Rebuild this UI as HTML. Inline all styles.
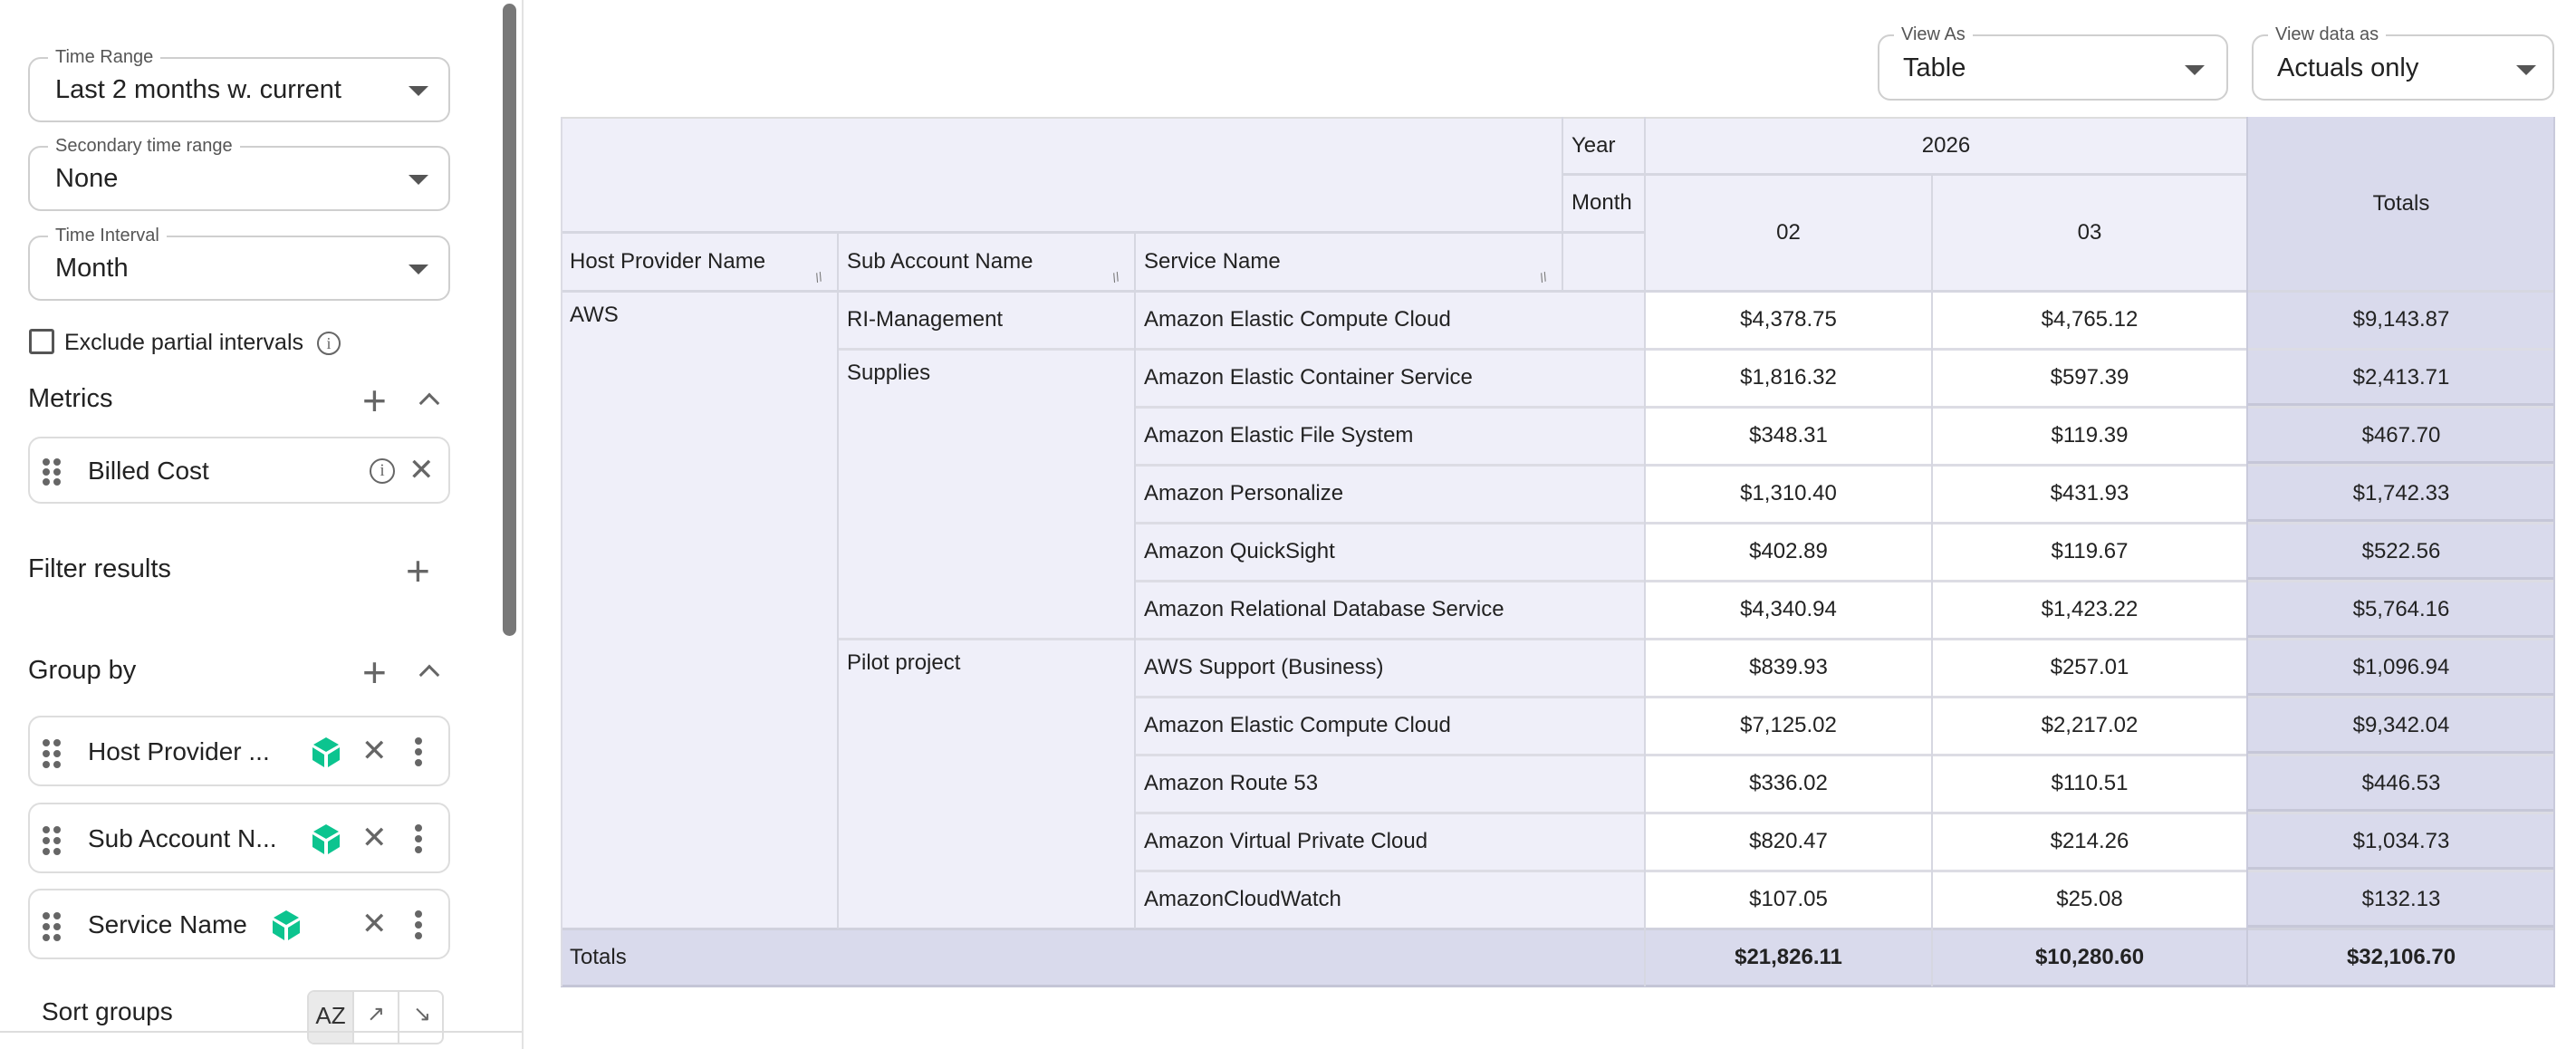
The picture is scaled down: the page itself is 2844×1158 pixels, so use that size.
<!DOCTYPE html>
<html><head><meta charset="utf-8"><style>
*{box-sizing:border-box;margin:0;padding:0}
body{width:2844px;height:1158px;overflow:hidden;background:#fff;font-family:"Liberation Sans",Arial,sans-serif;color:#1f1f1f;position:relative}
.a{position:absolute}
.box{position:absolute;border:2px solid #cfcfcf;border-radius:14px;background:#fff}
.lab{position:absolute;background:#fff;padding:0 8px;font-size:20px;color:#555;top:-14px;left:20px;line-height:24px}
.val{position:absolute;left:28px;font-size:29px;color:#222}
.arr{position:absolute;width:0;height:0;border-left:11px solid transparent;border-right:11px solid transparent;border-top:11px solid #555}
.card{position:absolute;left:31px;width:466px;border:2px solid #ddd;border-radius:14px;background:#fff}
.dots{position:absolute;left:14px;width:22px;height:30px}
.dots i{position:absolute;width:8px;height:8px;border-radius:50%;background:#666}
.ct{position:absolute;left:64px;font-size:28px;color:#222}
.x{position:absolute;font-size:34px;color:#666;line-height:34px}
.vd{position:absolute;width:8px}
.vd i{position:absolute;left:0;width:8px;height:8px;border-radius:50%;background:#666}
.h{position:absolute;font-size:29px;color:#222}
.plus{position:absolute;font-size:46px;color:#666;line-height:40px;font-weight:300}
.c{position:absolute;font-size:24px;display:flex;align-items:center;padding-left:10px;color:#222}
.n{position:absolute;font-size:24px;display:flex;align-items:center;justify-content:center;color:#222}
</style></head><body>

<!-- sidebar -->
<div class="a" style="left:576px;top:0;width:2px;height:1158px;background:#e2e2e2"></div>
<div class="a" style="left:555px;top:4px;width:15px;height:698px;background:#787878;border-radius:8px"></div>

<div class="box" style="left:31px;top:63px;width:466px;height:72px"><div class="lab">Time Range</div><div class="val" style="top:18px">Last 2 months w. current</div><div class="arr" style="left:418px;top:30px"></div></div>
<div class="box" style="left:31px;top:161px;width:466px;height:72px"><div class="lab">Secondary time range</div><div class="val" style="top:18px">None</div><div class="arr" style="left:418px;top:30px"></div></div>
<div class="box" style="left:31px;top:260px;width:466px;height:72px"><div class="lab">Time Interval</div><div class="val" style="top:18px">Month</div><div class="arr" style="left:418px;top:30px"></div></div>

<div class="a" style="left:32px;top:363px;width:28px;height:28px;border:3px solid #555;border-radius:3px"></div>
<div class="a" style="left:71px;top:364px;font-size:25px;color:#222">Exclude partial intervals</div>
<div class="a" style="left:350px;top:366px;width:26px;height:26px;border:2px solid #666;border-radius:50%;font-size:18px;text-align:center;line-height:22px;color:#666;font-family:'Liberation Serif',serif">i</div>

<div class="h" style="left:31px;top:424px">Metrics</div>
<div class="plus" style="left:400px;top:422px">+</div>
<div class="a" style="left:466px;top:437px;width:16px;height:16px;border-left:3px solid #666;border-top:3px solid #666;transform:rotate(45deg)"></div>

<div class="card" style="top:482px;height:74px">
 <div class="dots" style="top:22px"><i style="left:0;top:0"></i><i style="left:12px;top:0"></i><i style="left:0;top:11px"></i><i style="left:12px;top:11px"></i><i style="left:0;top:22px"></i><i style="left:12px;top:22px"></i></div>
 <div class="ct" style="top:20px">Billed Cost</div>
 <div class="a" style="left:375px;top:22px;width:28px;height:28px;border:2px solid #666;border-radius:50%;font-size:19px;text-align:center;line-height:24px;color:#666;font-family:'Liberation Serif',serif">i</div>
 <div class="x" style="left:418px;top:18px">✕</div>
</div>

<div class="h" style="left:31px;top:612px">Filter results</div>
<div class="plus" style="left:448px;top:610px">+</div>

<div class="h" style="left:31px;top:724px">Group by</div>
<div class="plus" style="left:400px;top:722px">+</div>
<div class="a" style="left:466px;top:737px;width:16px;height:16px;border-left:3px solid #666;border-top:3px solid #666;transform:rotate(45deg)"></div>

<svg width="0" height="0" style="position:absolute"><defs><g id="cube"><polygon points="15,0 29,8 15,16 1,8" fill="#0cc48f"/><polygon points="0,11 13,19 13,33 0,25" fill="#0cc48f"/><polygon points="30,11 17,19 17,33 30,25" fill="#0cc48f"/></g></defs></svg>

<div class="card" style="top:790px;height:78px">
 <div class="dots" style="top:24px"><i style="left:0;top:0"></i><i style="left:12px;top:0"></i><i style="left:0;top:12px"></i><i style="left:12px;top:12px"></i><i style="left:0;top:24px"></i><i style="left:12px;top:24px"></i></div>
 <div class="ct" style="top:22px">Host Provider ...</div>
 <svg class="a" style="left:312px;top:22px" width="31" height="34"><use href="#cube"/></svg>
 <div class="x" style="left:366px;top:20px">✕</div>
 <div class="vd" style="left:425px;top:22px"><i style="top:0"></i><i style="top:12px"></i><i style="top:24px"></i></div>
</div>
<div class="card" style="top:886px;height:78px">
 <div class="dots" style="top:24px"><i style="left:0;top:0"></i><i style="left:12px;top:0"></i><i style="left:0;top:12px"></i><i style="left:12px;top:12px"></i><i style="left:0;top:24px"></i><i style="left:12px;top:24px"></i></div>
 <div class="ct" style="top:22px">Sub Account N...</div>
 <svg class="a" style="left:312px;top:22px" width="31" height="34"><use href="#cube"/></svg>
 <div class="x" style="left:366px;top:20px">✕</div>
 <div class="vd" style="left:425px;top:22px"><i style="top:0"></i><i style="top:12px"></i><i style="top:24px"></i></div>
</div>
<div class="card" style="top:981px;height:78px">
 <div class="dots" style="top:24px"><i style="left:0;top:0"></i><i style="left:12px;top:0"></i><i style="left:0;top:12px"></i><i style="left:12px;top:12px"></i><i style="left:0;top:24px"></i><i style="left:12px;top:24px"></i></div>
 <div class="ct" style="top:22px">Service Name</div>
 <svg class="a" style="left:268px;top:22px" width="31" height="34"><use href="#cube"/></svg>
 <div class="x" style="left:366px;top:20px">✕</div>
 <div class="vd" style="left:425px;top:22px"><i style="top:0"></i><i style="top:12px"></i><i style="top:24px"></i></div>
</div>

<div class="a" style="left:46px;top:1101px;font-size:28px;color:#222">Sort groups</div>
<div class="a" style="left:339px;top:1093px;width:151px;height:60px;border:2px solid #ddd;border-radius:8px;overflow:hidden">
 <div class="a" style="left:0;top:0;width:50px;height:60px;background:#eaeaea;border-right:2px solid #ddd;font-size:26px;text-align:center;line-height:52px;color:#333">AZ</div>
 <div class="a" style="left:50px;top:0;width:50px;height:60px;border-right:2px solid #ddd;font-size:24px;text-align:center;line-height:50px;color:#666">↗</div>
 <div class="a" style="left:100px;top:0;width:50px;height:60px;font-size:24px;text-align:center;line-height:50px;color:#666">↘</div>
</div>
<div class="a" style="left:0;top:1138px;width:576px;height:2px;background:#ddd"></div>

<!-- top dropdowns -->
<div class="box" style="left:2073px;top:38px;width:387px;height:73px"><div class="lab" style="left:16px">View As</div><div class="val" style="top:19px;left:26px">Table</div><div class="arr" style="left:337px;top:32px"></div></div>
<div class="box" style="left:2486px;top:38px;width:334px;height:73px"><div class="lab" style="left:16px">View data as</div><div class="val" style="top:19px;left:26px">Actuals only</div><div class="arr" style="left:290px;top:32px"></div></div>

<!-- table -->
<div class="a" style="left:619px;top:129px;width:2202px;height:960px;background:#efeff9;border-top:2px solid #ddd"></div>
<!-- white value cells -->
<div class="a" style="left:1816px;top:321px;width:665px;height:704px;background:#fff"></div>
<!-- totals column -->
<div class="a" style="left:2481px;top:129px;width:340px;height:960px;background:#d9daec"></div>
<!-- totals row -->
<div class="a" style="left:619px;top:1025px;width:2202px;height:64px;background:#d9daec"></div>
<div class="a" style="left:619px;top:1087px;width:2202px;height:3px;background:#c4c5d6"></div>

<!-- horizontal lines -->
<div class="a" style="left:1725px;top:191px;width:756px;height:3px;background:#d6d7e1"></div>
<div class="a" style="left:619px;top:255px;width:1197px;height:3px;background:#d6d7e1"></div>
<div class="a" style="left:619px;top:320px;width:2202px;height:3px;background:#d6d7e1"></div>
<div class="a" style="left:925px;top:384px;width:1896px;height:3px;background:#dcdce4"></div>
<div class="a" style="left:925px;top:704px;width:1896px;height:3px;background:#dcdce4"></div>
<div class="a" style="left:1253px;top:448px;width:1568px;height:3px;background:#dcdce4"></div>
<div class="a" style="left:1253px;top:512px;width:1568px;height:3px;background:#dcdce4"></div>
<div class="a" style="left:1253px;top:576px;width:1568px;height:3px;background:#dcdce4"></div>
<div class="a" style="left:1253px;top:640px;width:1568px;height:3px;background:#dcdce4"></div>
<div class="a" style="left:1253px;top:768px;width:1568px;height:3px;background:#dcdce4"></div>
<div class="a" style="left:1253px;top:832px;width:1568px;height:3px;background:#dcdce4"></div>
<div class="a" style="left:1253px;top:896px;width:1568px;height:3px;background:#dcdce4"></div>
<div class="a" style="left:1253px;top:960px;width:1568px;height:3px;background:#dcdce4"></div>
<div class="a" style="left:619px;top:1024px;width:2202px;height:3px;background:#d0d1dd"></div>
<div class="a" style="left:2481px;top:384px;width:340px;height:641px;background:repeating-linear-gradient(to bottom,transparent 0,transparent 61px,#c6c7d8 61px,#c6c7d8 64px)"></div>

<!-- vertical lines -->
<div class="a" style="left:924px;top:256px;width:2px;height:769px;background:#d6d7e1"></div>
<div class="a" style="left:1252px;top:256px;width:2px;height:769px;background:#d6d7e1"></div>
<div class="a" style="left:1724px;top:129px;width:2px;height:192px;background:#d6d7e1"></div>
<div class="a" style="left:1815px;top:129px;width:2px;height:960px;background:#d6d7e1"></div>
<div class="a" style="left:2132px;top:192px;width:2px;height:897px;background:#d6d7e1"></div>
<div class="a" style="left:2480px;top:129px;width:2px;height:960px;background:#c9cadb"></div>
<div class="a" style="left:2819px;top:129px;width:2px;height:960px;background:#c9cadb"></div>
<div class="a" style="left:619px;top:129px;width:2px;height:960px;background:#dcdce4"></div>

<!-- header text -->
<div class="c" style="left:1725px;top:129px;width:91px;height:63px">Year</div>
<div class="c" style="left:1725px;top:192px;width:91px;height:64px">Month</div>
<div class="n" style="left:1816px;top:129px;width:665px;height:63px">2026</div>
<div class="n" style="left:1816px;top:192px;width:317px;height:129px">02</div>
<div class="n" style="left:2133px;top:192px;width:348px;height:129px">03</div>
<div class="n" style="left:2481px;top:129px;width:340px;height:192px">Totals</div>
<div class="c" style="left:619px;top:256px;width:306px;height:65px">Host Provider Name</div>
<div class="c" style="left:925px;top:256px;width:328px;height:65px">Sub Account Name</div>
<div class="c" style="left:1253px;top:256px;width:472px;height:65px">Service Name</div>
<div class="a" style="left:900px;top:298px;font-size:14px;color:#777;transform:rotate(-20deg)">//</div>
<div class="a" style="left:1228px;top:298px;font-size:14px;color:#777;transform:rotate(-20deg)">//</div>
<div class="a" style="left:1700px;top:298px;font-size:14px;color:#777;transform:rotate(-20deg)">//</div>

<div class="c" style="left:619px;top:321px;width:306px;height:54px">AWS</div>
<div class="c" style="left:925px;top:321px;width:328px;height:64px">RI-Management</div>
<div class="c" style="left:925px;top:385px;width:328px;height:54px">Supplies</div>
<div class="c" style="left:925px;top:705px;width:328px;height:54px">Pilot project</div>

<div class="c" style="left:1253px;top:321px;height:64px">Amazon Elastic Compute Cloud</div>
<div class="c" style="left:1253px;top:385px;height:64px">Amazon Elastic Container Service</div>
<div class="c" style="left:1253px;top:449px;height:64px">Amazon Elastic File System</div>
<div class="c" style="left:1253px;top:513px;height:64px">Amazon Personalize</div>
<div class="c" style="left:1253px;top:577px;height:64px">Amazon QuickSight</div>
<div class="c" style="left:1253px;top:641px;height:64px">Amazon Relational Database Service</div>
<div class="c" style="left:1253px;top:705px;height:64px">AWS Support (Business)</div>
<div class="c" style="left:1253px;top:769px;height:64px">Amazon Elastic Compute Cloud</div>
<div class="c" style="left:1253px;top:833px;height:64px">Amazon Route 53</div>
<div class="c" style="left:1253px;top:897px;height:64px">Amazon Virtual Private Cloud</div>
<div class="c" style="left:1253px;top:961px;height:64px">AmazonCloudWatch</div>

<div class="n" style="left:1816px;top:321px;width:317px;height:64px">$4,378.75</div><div class="n" style="left:2133px;top:321px;width:348px;height:64px">$4,765.12</div><div class="n" style="left:2481px;top:321px;width:340px;height:64px">$9,143.87</div>
<div class="n" style="left:1816px;top:385px;width:317px;height:64px">$1,816.32</div><div class="n" style="left:2133px;top:385px;width:348px;height:64px">$597.39</div><div class="n" style="left:2481px;top:385px;width:340px;height:64px">$2,413.71</div>
<div class="n" style="left:1816px;top:449px;width:317px;height:64px">$348.31</div><div class="n" style="left:2133px;top:449px;width:348px;height:64px">$119.39</div><div class="n" style="left:2481px;top:449px;width:340px;height:64px">$467.70</div>
<div class="n" style="left:1816px;top:513px;width:317px;height:64px">$1,310.40</div><div class="n" style="left:2133px;top:513px;width:348px;height:64px">$431.93</div><div class="n" style="left:2481px;top:513px;width:340px;height:64px">$1,742.33</div>
<div class="n" style="left:1816px;top:577px;width:317px;height:64px">$402.89</div><div class="n" style="left:2133px;top:577px;width:348px;height:64px">$119.67</div><div class="n" style="left:2481px;top:577px;width:340px;height:64px">$522.56</div>
<div class="n" style="left:1816px;top:641px;width:317px;height:64px">$4,340.94</div><div class="n" style="left:2133px;top:641px;width:348px;height:64px">$1,423.22</div><div class="n" style="left:2481px;top:641px;width:340px;height:64px">$5,764.16</div>
<div class="n" style="left:1816px;top:705px;width:317px;height:64px">$839.93</div><div class="n" style="left:2133px;top:705px;width:348px;height:64px">$257.01</div><div class="n" style="left:2481px;top:705px;width:340px;height:64px">$1,096.94</div>
<div class="n" style="left:1816px;top:769px;width:317px;height:64px">$7,125.02</div><div class="n" style="left:2133px;top:769px;width:348px;height:64px">$2,217.02</div><div class="n" style="left:2481px;top:769px;width:340px;height:64px">$9,342.04</div>
<div class="n" style="left:1816px;top:833px;width:317px;height:64px">$336.02</div><div class="n" style="left:2133px;top:833px;width:348px;height:64px">$110.51</div><div class="n" style="left:2481px;top:833px;width:340px;height:64px">$446.53</div>
<div class="n" style="left:1816px;top:897px;width:317px;height:64px">$820.47</div><div class="n" style="left:2133px;top:897px;width:348px;height:64px">$214.26</div><div class="n" style="left:2481px;top:897px;width:340px;height:64px">$1,034.73</div>
<div class="n" style="left:1816px;top:961px;width:317px;height:64px">$107.05</div><div class="n" style="left:2133px;top:961px;width:348px;height:64px">$25.08</div><div class="n" style="left:2481px;top:961px;width:340px;height:64px">$132.13</div>

<div class="c" style="left:619px;top:1025px;height:64px">Totals</div>
<div class="n" style="left:1816px;top:1025px;width:317px;height:64px;font-weight:bold">$21,826.11</div>
<div class="n" style="left:2133px;top:1025px;width:348px;height:64px;font-weight:bold">$10,280.60</div>
<div class="n" style="left:2481px;top:1025px;width:340px;height:64px;font-weight:bold">$32,106.70</div>

</body></html>
